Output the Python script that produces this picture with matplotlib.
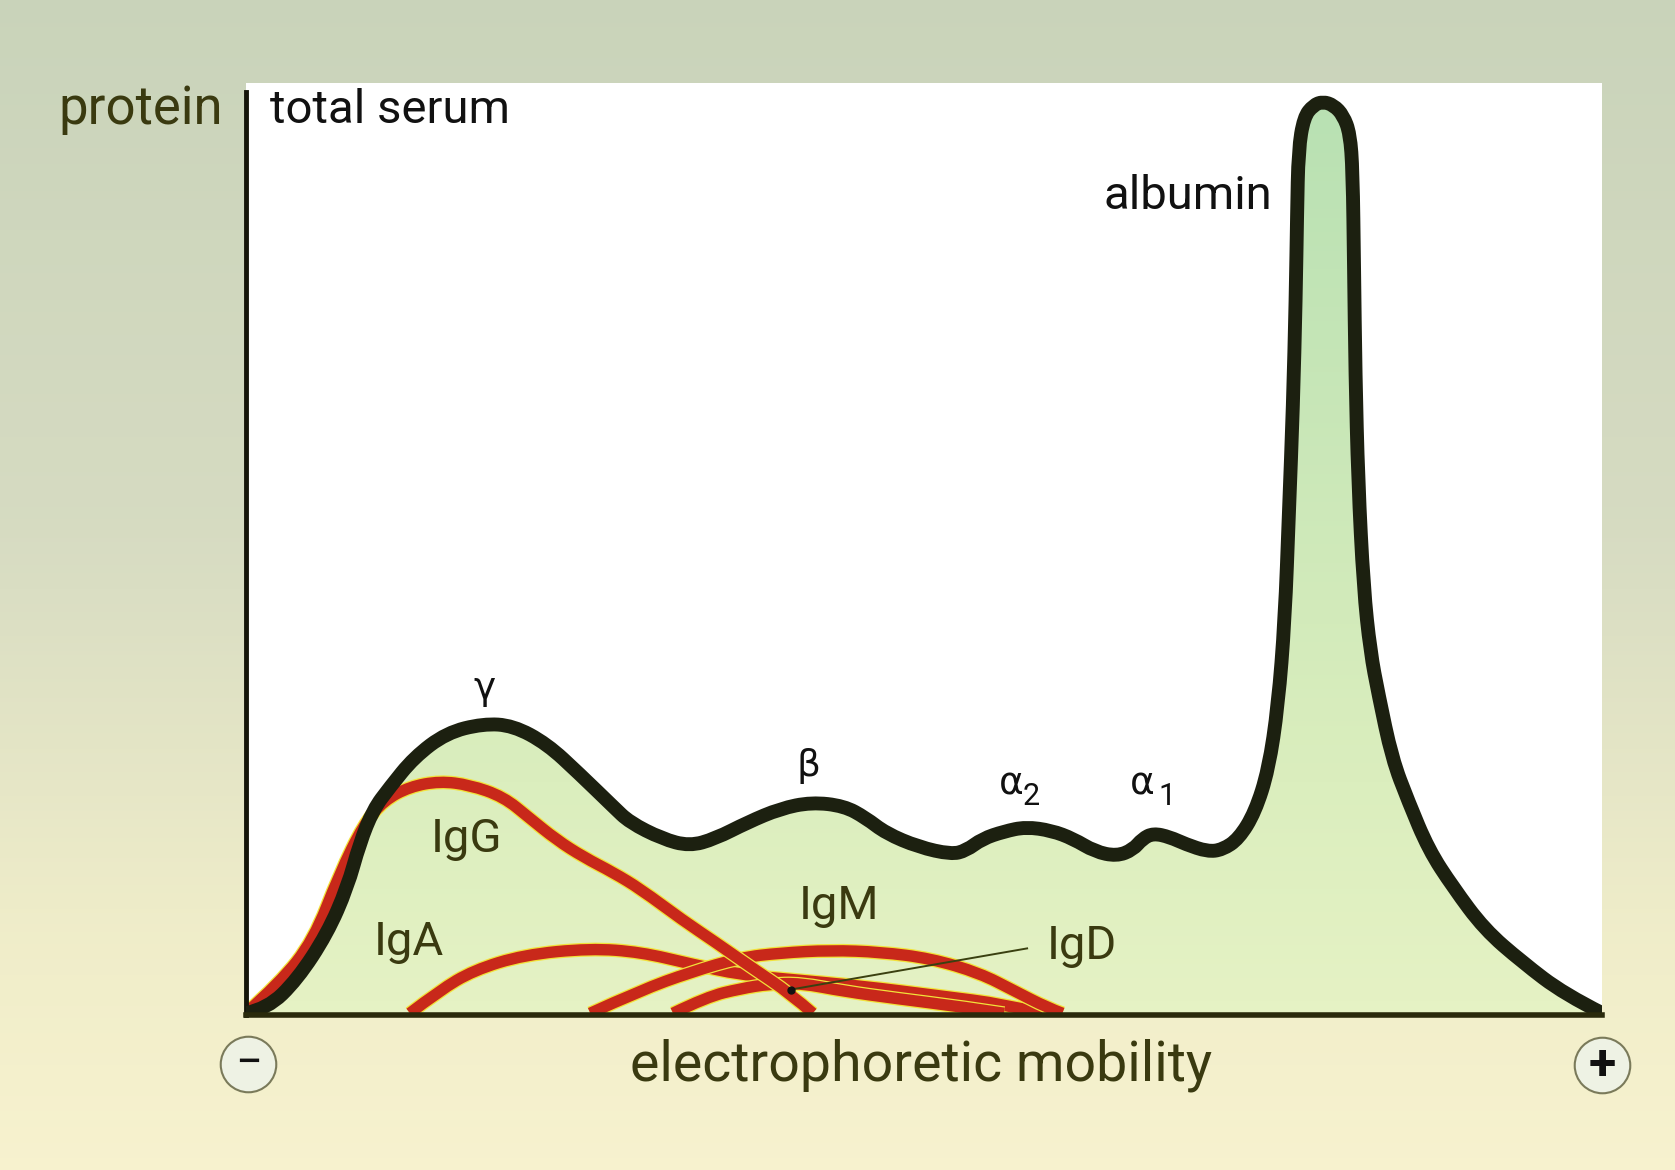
import numpy as np
import matplotlib.pyplot as plt
import matplotlib.patheffects as pe
from matplotlib.path import Path
from matplotlib.patches import PathPatch

plt.rcParams['font.family'] = ['Roboto', 'DejaVu Sans']

# total serum profile (electrophoretic mobility 0-100, protein 0-100)
serum_x = [0.0, 1.6, 3.8, 6.0, 7.5, 8.4, 9.4, 10.6, 12.4, 14.8, 17.5, 19.7, 22.2, 24.6,
           27.1, 28.3, 30.7, 32.7, 34.6, 37.0, 39.4, 41.7, 44.1, 45.7, 47.2, 49.6, 52.0,
           53.1, 54.3, 55.9, 57.5, 59.4, 61.0, 62.6, 64.2, 65.4, 66.1, 66.9, 68.1, 69.3,
           70.9, 72.0, 73.2, 74.4, 75.4, 76.1, 76.6, 76.9, 77.2, 77.4, 77.5, 77.6, 78.0,
           78.7, 79.4, 80.2, 80.9, 81.4, 81.6, 81.7, 81.8, 82.0, 82.4, 82.9, 83.5, 84.5,
           85.7, 87.2, 89.0, 91.3, 94.1, 97.2, 100.0]
serum_y = [0.2, 0.7, 3.9, 8.9, 14.0, 18.8, 22.5, 24.9, 28.2, 30.9, 31.9, 31.7, 29.7, 26.4,
           22.8, 21.1, 19.3, 18.5, 19.3, 21.1, 22.6, 23.3, 22.9, 21.6, 19.9, 18.4, 17.6,
           18.0, 19.3, 20.1, 20.6, 20.2, 19.3, 17.9, 17.4, 18.1, 19.3, 19.9, 19.5, 18.7,
           17.9, 18.1, 19.3, 22.2, 26.9, 33.9, 43.3, 55.0, 66.7, 78.4, 87.7, 94.7, 98.3,
           99.6, 100.0, 99.6, 98.5, 96.5, 92.4, 81.9, 70.2, 58.5, 46.8, 39.8, 35.1, 28.1,
           23.4, 18.1, 14.0, 9.4, 5.8, 2.3, 0.2]

# immunoglobulin classes
igg_x = [0.0, 2.5, 5.0, 6.9, 8.7, 10.2, 12.1, 14.3, 16.5, 19.0, 20.9, 22.9, 24.9, 27.1,
         29.1, 32.2, 34.6, 37.2, 40.2, 41.8]
igg_y = [0.2, 3.5, 8.2, 15.4, 20.9, 23.5, 25.0, 25.6, 25.2, 23.9, 21.6, 19.2, 17.3, 15.6,
         13.8, 10.4, 8.0, 5.3, 2.3, 0.2]
iga_x = [12.1, 14.3, 16.8, 20.5, 25.4, 29.1, 32.8, 36.5, 40.2, 45.3, 51.2, 55.9, 58.7]
iga_y = [0.2, 2.7, 4.9, 6.6, 7.3, 6.9, 5.6, 4.4, 3.9, 3.2, 2.1, 1.2, 0.2]
igm_x = [25.4, 29.1, 32.8, 36.5, 39.4, 43.1, 46.8, 50.5, 54.1, 56.6, 59.1, 60.2]
igm_y = [0.2, 2.7, 4.7, 6.3, 6.8, 7.1, 6.9, 6.2, 4.6, 2.7, 0.8, 0.2]
igd_x = [31.5, 34.0, 36.5, 38.6, 40.9, 44.1, 48.0, 52.8, 55.9]
igd_y = [0.2, 2.0, 2.9, 3.4, 3.5, 2.6, 1.8, 0.9, 0.2]

ink = '#111111'
olive = '#3a3a10'
red = '#c8281a'


def smooth_path(xs, ys, closed=False):
    # quadratic bezier through midpoints, points act as control points
    p = np.column_stack([xs, ys])
    verts = [p[0]]
    codes = [Path.MOVETO]
    for i in range(1, len(p) - 1):
        mid = (p[i] + p[i + 1]) / 2 if i < len(p) - 2 else p[i + 1]
        verts += [p[i], mid]
        codes += [Path.CURVE3, Path.CURVE3]
    if closed:
        verts.append(p[0])
        codes.append(Path.CLOSEPOLY)
    return Path(verts, codes)


fig = plt.figure(figsize=(16.75, 11.7), dpi=100)

# slide background
bg = fig.add_axes([0, 0, 1, 1], zorder=0)
pos = np.linspace(0, 1, 300)
stops = [0.0, 0.45, 0.8, 1.0]
cols = np.array([[0.79, 0.83, 0.73], [0.84, 0.86, 0.76], [0.94, 0.93, 0.79], [0.97, 0.95, 0.81]])
grad = np.stack([np.interp(pos, stops, cols[:, k]) for k in range(3)], axis=-1)
bg.imshow(np.repeat(grad[:, None, :], 2, axis=1), aspect='auto', extent=[0, 1, 0, 1])
bg.axis('off')

ax = fig.add_axes([0.1467, 0.1324, 0.8099, 0.7964], zorder=1)
ax.set_facecolor('white')

# green fill under total serum
clip = PathPatch(smooth_path(serum_x, serum_y, closed=True), facecolor='none', edgecolor='none')
ax.add_patch(clip)
fpos = np.linspace(0, 1, 200)
fstops = [0.0, 0.3, 1.0]
fcols = np.array([[0.90, 0.95, 0.77], [0.85, 0.93, 0.74], [0.72, 0.88, 0.70]])
fgrad = np.stack([np.interp(fpos, fstops, fcols[:, k]) for k in range(3)], axis=-1)
im = ax.imshow(np.repeat(fgrad[:, None, :], 2, axis=1), extent=(0, 100, 0, 102),
               aspect='auto', origin='lower', zorder=1)
im.set_clip_path(clip)

halo = [pe.Stroke(linewidth=10.0, foreground='#f2e23a', joinstyle='round'), pe.Normal()]
for xs, ys in [(iga_x, iga_y), (igm_x, igm_y), (igd_x, igd_y), (igg_x, igg_y)]:
    ax.add_patch(PathPatch(smooth_path(xs, ys), facecolor='none', edgecolor=red, lw=8.2,
                           capstyle='butt', joinstyle='round', zorder=2, path_effects=halo))

ax.add_patch(PathPatch(smooth_path(serum_x, serum_y), facecolor='none', edgecolor='#1c2010',
                       lw=10, capstyle='butt', joinstyle='round', zorder=3))

ax.set_xlim(0, 100)
ax.set_ylim(0, 102)
ax.set_xticks([])
ax.set_yticks([])
for s in ['top', 'right']:
    ax.spines[s].set_visible(False)
ax.spines['left'].set_linewidth(3.5)
ax.spines['left'].set_color('#15150a')
ax.spines['left'].set_bounds(0, 101)
ax.spines['bottom'].set_linewidth(4)
ax.spines['bottom'].set_color('#2a2a0c')
ax.spines['bottom'].set_zorder(4)

# labels
greek = ['DejaVu Sans']
ax.text(1.8, 99.1, 'total serum', fontsize=34, color=ink, ha='left', va='center')
ax.text(-1.7, 99.1, 'protein', fontsize=38, color=olive, ha='right', va='center')
ax.text(75.7, 89.7, 'albumin', fontsize=34, color=ink, ha='right', va='center')
ax.text(17.6, 35.7, 'γ', fontsize=27, family=greek, color=ink, ha='center', va='center')
ax.text(41.5, 27.3, 'β', fontsize=27, family=greek, color=ink, ha='center', va='center')
ax.text(56.4, 25.2, 'α', fontsize=27, family=greek, color=ink, ha='center', va='center')
ax.text(57.3, 23.9, '2', fontsize=22, color=ink, ha='left', va='center')
ax.text(66.1, 25.2, 'α', fontsize=27, family=greek, color=ink, ha='center', va='center')
ax.text(67.3, 23.9, '1', fontsize=22, color=ink, ha='left', va='center')

ax.text(16.3, 19.3, 'IgG', fontsize=34, color=olive, ha='center', va='center')
ax.text(12.0, 8.0, 'IgA', fontsize=34, color=olive, ha='center', va='center')
ax.text(43.7, 11.9, 'IgM', fontsize=34, color=olive, ha='center', va='center')
ax.text(61.6, 7.6, 'IgD', fontsize=34, color=olive, ha='center', va='center')
ax.plot([40.2, 57.6], [2.8, 7.3], color='#3a4010', lw=1.4, zorder=4)
ax.plot([40.2], [2.8], 'o', ms=5, color=ink, zorder=4)

ax.text(49.8, -5.5, 'electrophoretic mobility', fontsize=40, color=olive, ha='center', va='center')

ax.plot([0.2], [-5.3], 'o', ms=40, mfc='#eef2e4', mec='#7a7a5a', mew=1.5, clip_on=False, zorder=5)
ax.text(0.2, -5.4, '−', fontsize=34, color=ink, ha='center', va='center', zorder=6)
ax.plot([100.0], [-5.5], 'o', ms=40, mfc='#eef2e4', mec='#7a7a5a', mew=1.5, clip_on=False, zorder=5)
ax.text(100.0, -5.6, '+', fontsize=36, fontweight='bold', color=ink, ha='center', va='center', zorder=6)

fig.savefig('out.png', dpi=100)
